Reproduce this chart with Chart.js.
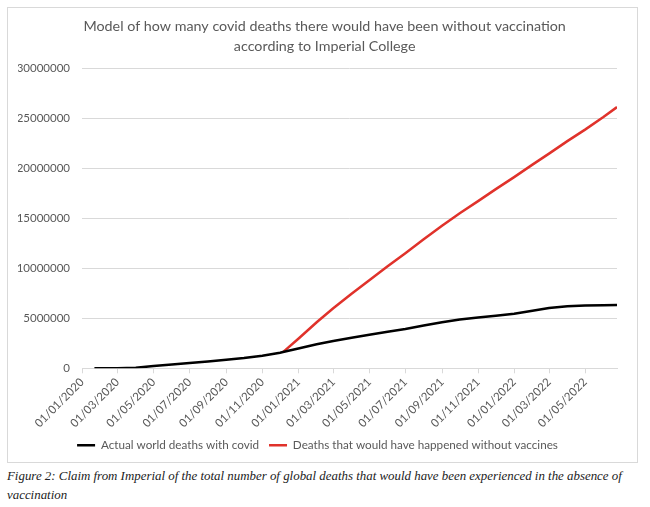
<!DOCTYPE html>
<html>
<head>
<meta charset="utf-8">
<script src="https://cdn.jsdelivr.net/npm/chart.js@4.4.1/dist/chart.umd.min.js"></script>
<style>
  body { margin: 0; background: #fff; }
  #box {
    position: absolute; left: 7px; top: 7px;
    width: 629px; height: 454px;
    border: 1px solid #d9d9d9;
  }
  #caption {
    position: absolute; left: 7px; top: 467px; width: 643px;
    font-family: "Liberation Serif", serif; font-style: italic;
    font-size: 12.9px; line-height: 19px; color: #222;
    white-space: nowrap;
  }
</style>
</head>
<body>
<div id="box"><canvas id="chart" width="629" height="454"></canvas></div>
<div id="caption">Figure 2: Claim from Imperial of the total number of global deaths that would have been experienced in the absence of<br>vaccination</div>
<script>
const xTickLabels = ['01/01/2020', '01/03/2020', '01/05/2020', '01/07/2020', '01/09/2020', '01/11/2020',
	'01/01/2021', '01/03/2021', '01/05/2021', '01/07/2021', '01/09/2021', '01/11/2021',
	'01/01/2022', '01/03/2022', '01/05/2022'];

const actualDates = ['2020-01-22', '2020-02-01', '2020-03-01', '2020-04-01', '2020-05-01', '2020-06-01',
	'2020-07-01', '2020-08-01', '2020-09-01', '2020-10-01', '2020-11-01', '2020-12-01', '2020-12-06',
	'2021-01-01', '2021-02-01', '2021-03-01', '2021-04-01', '2021-05-01', '2021-06-01', '2021-07-01',
	'2021-08-01', '2021-09-01', '2021-10-01', '2021-11-01', '2021-12-01', '2022-01-01', '2022-02-01',
	'2022-03-01', '2022-04-01', '2022-05-01', '2022-06-01', '2022-06-24'];
const actualDeaths = [0, 0, 3000, 50000, 220000, 370000,
	520000, 680000, 850000, 1020000, 1250000, 1550000, 1620000,
	1980000, 2400000, 2720000, 3050000, 3350000, 3650000, 3920000,
	4280000, 4600000, 4870000, 5070000, 5250000, 5450000, 5750000,
	6020000, 6200000, 6270000, 6310000, 6330000];

const noVaccineDates = ['2020-12-06', '2021-01-01', '2021-02-01', '2021-03-01', '2021-04-01', '2021-05-01',
	'2021-06-01', '2021-07-01', '2021-08-01', '2021-09-01', '2021-10-01', '2021-11-01', '2021-12-01',
	'2022-01-01', '2022-02-01', '2022-03-01', '2022-04-01', '2022-05-01', '2022-06-01', '2022-06-24'];
const noVaccineDeaths = [1620000, 2950000, 4600000, 6000000, 7450000, 8800000,
	10200000, 11500000, 12900000, 14250000, 15500000, 16700000, 17900000,
	19100000, 20350000, 21450000, 22700000, 23850000, 25100000, 26100000];

// days since 01/01/2020
const BASE = Date.UTC(2020, 0, 1);
function dayOf(iso) {
	const [y, m, d] = iso.split('-').map(Number);
	return Math.round((Date.UTC(y, m - 1, d) - BASE) / 86400000);
}
function dayOfLabel(lbl) {
	const [d, m, y] = lbl.split('/');
	return dayOf(y + '-' + m + '-' + d);
}

const tickDays = xTickLabels.map(dayOfLabel);
const lastDay = dayOf(actualDates[actualDates.length - 1]);

const grey = '#595959';
const fontFamily = 'Lato, "Liberation Sans", sans-serif';

const ctx = document.querySelector('#chart').getContext('2d');

new Chart(ctx, {
	type: 'line',
	data: {
		datasets: [
			{
				label: 'Actual world deaths with covid',
				data: actualDates.map((d, i) => ({ x: dayOf(d), y: actualDeaths[i] })),
				borderColor: '#000000',
				backgroundColor: '#000000',
				borderWidth: 2.5,
				pointRadius: 0,
				tension: 0
			},
			{
				label: 'Deaths that would have happened without vaccines',
				data: noVaccineDates.map((d, i) => ({ x: dayOf(d), y: noVaccineDeaths[i] })),
				borderColor: '#e0322b',
				backgroundColor: '#e0322b',
				borderWidth: 2.5,
				pointRadius: 0,
				tension: 0
			}
		]
	},
	options: {
		responsive: false,
		animation: false,
		layout: {
			padding: { left: 10, right: 20, top: 0, bottom: 1 }
		},
		scales: {
			x: {
				type: 'linear',
				min: 0,
				max: lastDay,
				afterBuildTicks: scale => {
					scale.ticks = tickDays.map(v => ({ value: v }));
				},
				afterFit: scale => {
					scale.height = 61;
				},
				ticks: {
					autoSkip: false,
					maxRotation: 45,
					minRotation: 45,
					color: grey,
					padding: 2,
					font: { family: fontFamily, size: 11.5 },
					callback: value => xTickLabels[tickDays.indexOf(value)]
				},
				grid: {
					drawOnChartArea: false,
					color: '#d9d9d9',
					tickLength: 5
				},
				border: { color: '#d9d9d9' }
			},
			y: {
				min: 0,
				max: 30000000,
				afterFit: scale => {
					scale.width = 64;
				},
				ticks: {
					stepSize: 5000000,
					color: grey,
					padding: 12,
					font: { family: fontFamily, size: 11.5 },
					callback: value => String(value)
				},
				grid: {
					color: '#d9d9d9',
					drawTicks: false
				},
				border: { display: false }
			}
		},
		plugins: {
			title: {
				display: true,
				// leading en spaces nudge the centred title right, as in the original
				text: ['\u2002\u2002Model of how many covid deaths there would have been without vaccination', '\u2002\u2002according to Imperial College'],
				color: grey,
				font: { family: fontFamily, size: 14.3, weight: 'normal', lineHeight: 1.4 },
				padding: { top: 8, bottom: 12 }
			},
			legend: {
				display: true,
				position: 'bottom',
				labels: {
					color: grey,
					usePointStyle: true,
					pointStyle: 'line',
					pointStyleWidth: 18,
					padding: 10,
					font: { family: fontFamily, size: 11.7 }
				}
			},
			tooltip: { enabled: false }
		}
	}
});
</script>
</body>
</html>
